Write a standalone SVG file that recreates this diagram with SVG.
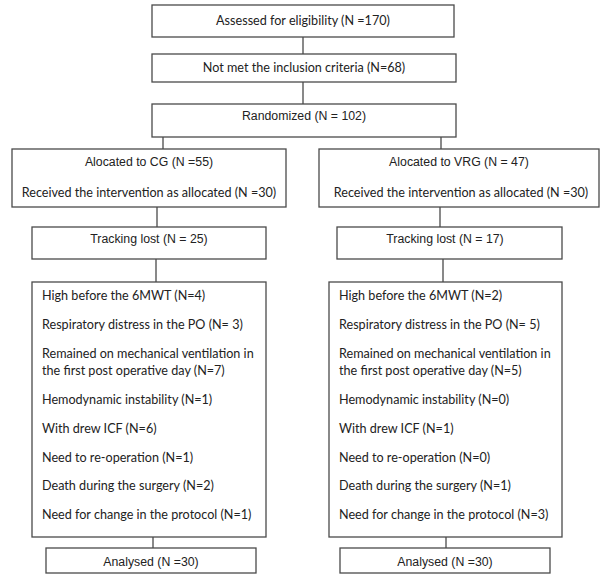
<svg xmlns="http://www.w3.org/2000/svg" width="613" height="575" viewBox="0 0 613 575">
<style>
.box{fill:#fff;stroke:#4a4a4a;stroke-width:1.3}
.ln{stroke:#4a4a4a;stroke-width:1.3;fill:none}
.h{font-family:"Liberation Sans",Arial,sans-serif;font-size:12.3px;fill:#222;text-anchor:middle}
.c{font-family:Lato,"Liberation Sans",sans-serif;font-size:12.6px;fill:#222}
.cm{text-anchor:middle}
</style>
<rect width="613" height="575" fill="#fff"/>
<g id="connectors">
<line class="ln" x1="303" y1="37" x2="303" y2="54"/>
<line class="ln" x1="303" y1="82" x2="303" y2="104"/>
<line class="ln" x1="163" y1="137" x2="163" y2="149"/>
<line class="ln" x1="441" y1="137" x2="441" y2="149"/>
<line class="ln" x1="157" y1="207" x2="157" y2="227"/>
<line class="ln" x1="440" y1="207" x2="440" y2="227"/>
<line class="ln" x1="156" y1="259" x2="156" y2="282"/>
<line class="ln" x1="443" y1="259" x2="443" y2="282"/>
<line class="ln" x1="153" y1="537" x2="153" y2="548"/>
<line class="ln" x1="446" y1="537" x2="446" y2="548"/>
</g>
<g id="assessed">
<rect class="box" x="152" y="5" width="302" height="32"/>
<text class="c cm" x="303" y="25">Assessed for eligibility (N =170)</text>
</g>
<g id="excluded">
<rect class="box" x="152" y="54" width="304" height="28"/>
<text class="c cm" x="304" y="72">Not met the inclusion criteria (N=68)</text>
</g>
<g id="randomized">
<rect class="box" x="152" y="104" width="304" height="33"/>
<text class="h" x="304" y="120">Randomized (N = 102)</text>
</g>
<g id="alloc-cg">
<rect class="box" x="12" y="149" width="274" height="58"/>
<text class="h" x="149" y="166">Alocated to CG (N =55)</text>
<text class="c cm" x="149" y="197">Received the intervention as allocated (N =30)</text>
</g>
<g id="alloc-vrg">
<rect class="box" x="319" y="149" width="280" height="58"/>
<text class="h" x="459" y="166">Alocated to VRG (N = 47)</text>
<text class="c cm" x="461" y="197">Received the intervention as allocated (N =30)</text>
</g>
<g id="lost-cg">
<rect class="box" x="32" y="227" width="234" height="32"/>
<text class="h" x="149" y="243">Tracking lost (N = 25)</text>
</g>
<g id="lost-vrg">
<rect class="box" x="337" y="227" width="225" height="32"/>
<text class="h" x="445" y="243">Tracking lost (N = 17)</text>
</g>
<g id="reasons-cg">
<rect class="box" x="32" y="282" width="234" height="255"/>
<text class="c" x="42" y="300">High before the 6MWT (N=4)</text>
<text class="c" x="42" y="329">Respiratory distress in the PO (N= 3)</text>
<text class="c" x="42" y="358">Remained on mechanical ventilation in</text>
<text class="c" x="42" y="375">the first post operative day (N=7)</text>
<text class="c" x="42" y="404">Hemodynamic instability (N=1)</text>
<text class="c" x="42" y="433">With drew ICF (N=6)</text>
<text class="c" x="42" y="462">Need to re-operation (N=1)</text>
<text class="c" x="42" y="490">Death during the surgery (N=2)</text>
<text class="c" x="42" y="519">Need for change in the protocol (N=1)</text>
</g>
<g id="reasons-vrg">
<rect class="box" x="329" y="282" width="233" height="255"/>
<text class="c" x="339" y="300">High before the 6MWT (N=2)</text>
<text class="c" x="339" y="329">Respiratory distress in the PO (N= 5)</text>
<text class="c" x="339" y="358">Remained on mechanical ventilation in</text>
<text class="c" x="339" y="375">the first post operative day (N=5)</text>
<text class="c" x="339" y="404">Hemodynamic instability (N=0)</text>
<text class="c" x="339" y="433">With drew ICF (N=1)</text>
<text class="c" x="339" y="462">Need to re-operation (N=0)</text>
<text class="c" x="339" y="490">Death during the surgery (N=1)</text>
<text class="c" x="339" y="519">Need for change in the protocol (N=3)</text>
</g>
<g id="analysed-cg">
<rect class="box" x="46" y="548" width="210" height="25"/>
<text class="h" x="151" y="566">Analysed (N =30)</text>
</g>
<g id="analysed-vrg">
<rect class="box" x="340" y="548" width="210" height="25"/>
<text class="h" x="445" y="566">Analysed (N =30)</text>
</g>
</svg>
